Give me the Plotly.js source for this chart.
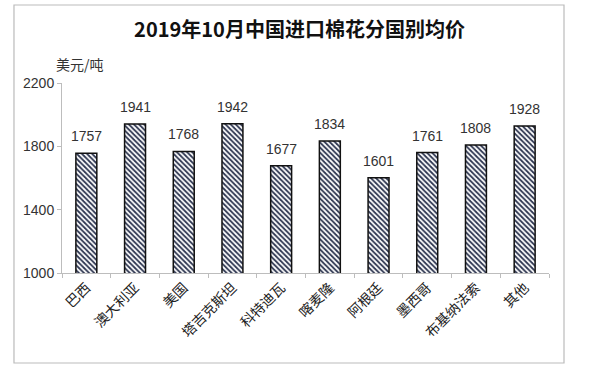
<!DOCTYPE html>
<html><head><meta charset="utf-8">
<script src="https://cdn.plot.ly/plotly-3.0.1.min.js"></script>
<style>body{margin:0;background:#fff}#c{width:599px;height:379px}</style>
</head><body><div id="c"></div>
<script>
const categories = ["巴西","澳大利亚","美国","塔吉克斯坦","科特迪瓦","喀麦隆","阿根廷","墨西哥","布基纳法索","其他"];
const prices = [1757,1941,1768,1942,1677,1834,1601,1761,1808,1928];
const yTicks = [1000,1400,1800,2200];
const font = "'Noto Sans CJK SC', 'Liberation Sans', Arial, sans-serif";

const trace = {
  type: "bar",
  x: categories,
  y: prices,
  width: 0.43,
  marker: {
    color: "#ffffff",
    line: {color: "#111", width: 1.5},
    pattern: {shape: "\\", fgcolor: "#2d3550", bgcolor: "#ffffff", size: 3.6, solidity: 0.5}
  },
  hoverinfo: "skip"
};

const valueLabels = categories.map((c, i) => ({
  x: c, y: prices[i], xref: "x", yref: "y",
  text: String(prices[i]), showarrow: false,
  yanchor: "bottom", yshift: 7,
  font: {family: "'Liberation Sans', Arial, sans-serif", size: 14, color: "#333"}
}));

const layout = {
  width: 599, height: 379,
  margin: {l: 62, r: 50, t: 83, b: 106},
  paper_bgcolor: "#fff", plot_bgcolor: "#fff",
  showlegend: false,
  title: {text: "<b>2019年10月中国进口棉花分国别均价</b>", x: 0.5, xanchor: "center", y: 0.92, yanchor: "middle",
          font: {family: font, size: 20, color: "#111"}},
  xaxis: {
    type: "category",
    showline: true, linecolor: "#bdbdbd", linewidth: 1,
    ticks: "outside", ticklen: 4, tickcolor: "#bdbdbd", tickson: "boundaries",
    tickangle: -45,
    tickfont: {family: font, size: 14, color: "#222"},
    showgrid: false, zeroline: false, fixedrange: true
  },
  yaxis: {
    range: [1000, 2200],
    tickvals: yTicks,
    ticktext: yTicks.map(String),
    showline: true, linecolor: "#bdbdbd", linewidth: 1,
    ticks: "outside", ticklen: 4, tickcolor: "#bdbdbd",
    tickfont: {family: "'Liberation Sans', Arial, sans-serif", size: 14, color: "#333"},
    showgrid: false, zeroline: false, fixedrange: true
  },
  annotations: [{
    text: "美元/吨", xref: "paper", yref: "paper", x: -0.016, y: 1.1, xanchor: "left", yanchor: "middle",
    showarrow: false, font: {family: font, size: 14, color: "#333"}
  }].concat(valueLabels),
  shapes: [{
    type: "rect", xref: "paper", yref: "paper",
    x0: -0.0986, x1: 1.0308, y0: -0.4737, y1: 1.4105,
    line: {color: "#bbbbbb", width: 1.2}, fillcolor: "rgba(0,0,0,0)"
  }]
};

Plotly.newPlot("c", [trace], layout, {displayModeBar: false, staticPlot: true});
</script></body></html>
